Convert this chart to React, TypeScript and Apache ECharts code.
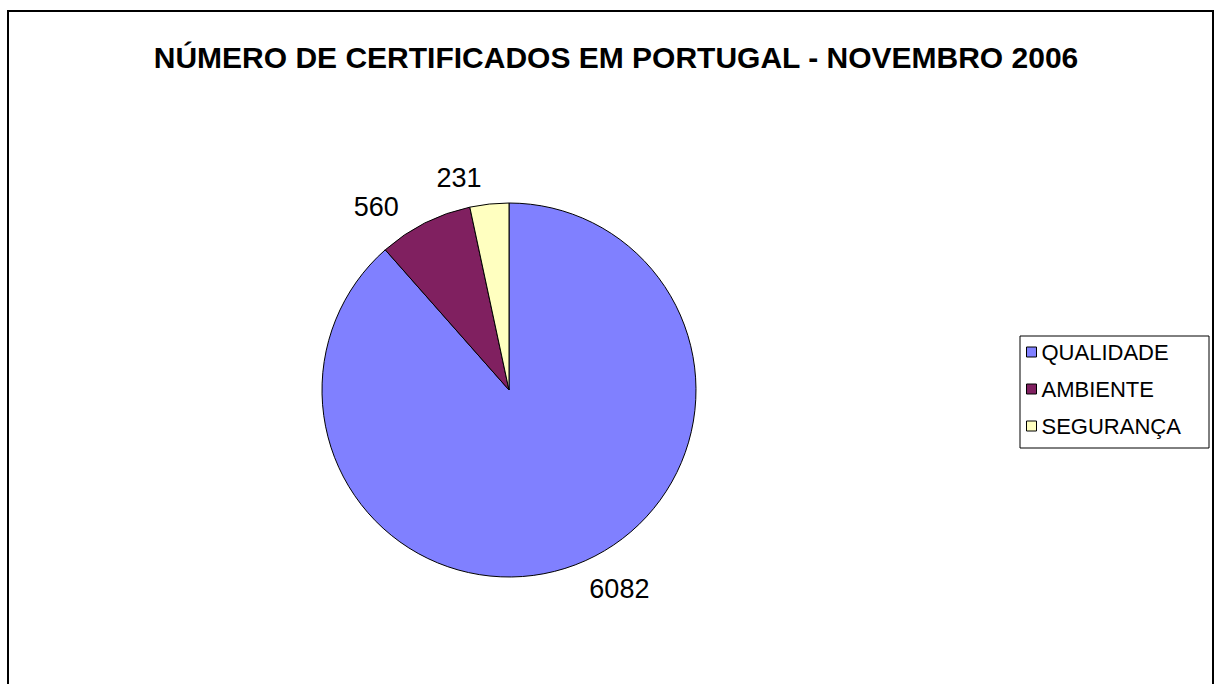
import React, { useEffect, useRef } from "react";
import * as echarts from "echarts";

const title = "NÚMERO DE CERTIFICADOS EM PORTUGAL - NOVEMBRO 2006";
const categories = ["QUALIDADE", "AMBIENTE", "SEGURANÇA"];
const values = [6082, 560, 231];
const colors = ["#8080FF", "#802060", "#FFFFC0"];

const FONT = "Liberation Sans, Arial, sans-serif";

export default function App() {
  const ref = useRef<HTMLDivElement>(null);
  useEffect(() => {
    if (!ref.current) return;
    const chart = echarts.init(ref.current, undefined, { renderer: "svg" });
    chart.setOption({
      animation: false,
      backgroundColor: "#ffffff",
      textStyle: { fontFamily: FONT },
      graphic: [
        {
          type: "rect",
          shape: { x: 8, y: 11, width: 1205, height: 700 },
          style: { fill: "none", stroke: "#000", lineWidth: 2 },
          silent: true,
        },
        {
          type: "rect",
          shape: { x: 1020, y: 336, width: 189, height: 112 },
          style: { fill: "none", stroke: "#000", lineWidth: 1 },
          silent: true,
        },
      ],
      title: {
        text: title,
        left: 611,
        textAlign: "center",
        top: 37,
        textStyle: {
          fontFamily: FONT,
          fontWeight: "bold",
          fontSize: 30,
          color: "#000",
        },
      },
      legend: {
        orient: "vertical",
        left: 1026,
        top: 341,
        padding: 0,
        itemGap: 15,
        itemWidth: 10,
        itemHeight: 10,
        itemTextGap: 11,
        icon: "rect",
        data: categories,
        textStyle: {
          fontFamily: FONT,
          fontSize: 22,
          color: "#000",
        },
        itemStyle: { borderColor: "#000", borderWidth: 1 },
      },
      series: [
        {
          type: "pie",
          center: [509, 390],
          radius: 187,
          startAngle: 90,
          clockwise: true,
          data: categories.map((c, i) => ({
            name: c,
            value: values[i],
            itemStyle: { color: colors[i] },
          })),
          itemStyle: { borderColor: "#000", borderWidth: 1 },
          label: {
            show: true,
            position: "outside",
            formatter: "{c}",
            fontFamily: FONT,
            fontSize: 27,
            color: "#000",
          },
          labelLine: { show: false, length: 26, length2: 0 },
          emphasis: { disabled: true },
        },
      ],
    });
    return () => chart.dispose();
  }, []);
  return (
    <div
      ref={ref}
      style={{ position: "absolute", left: 0, top: 0, width: 1215, height: 684 }}
    />
  );
}
